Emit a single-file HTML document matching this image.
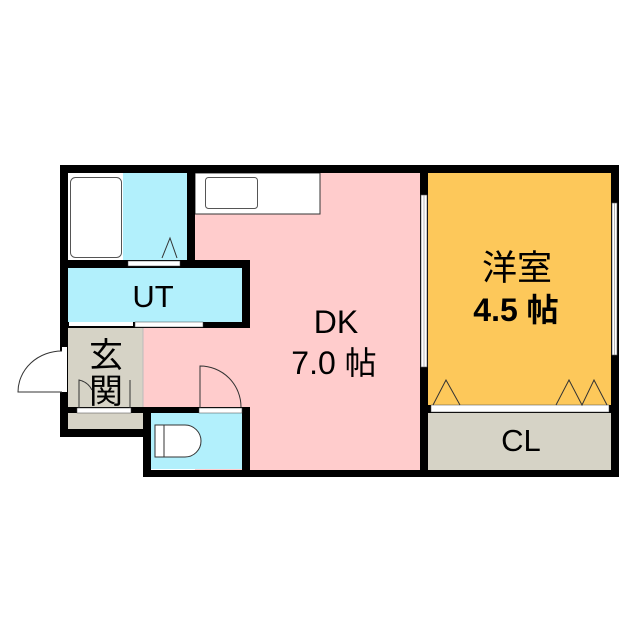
<!DOCTYPE html>
<html><head><meta charset="utf-8"><style>
html,body{margin:0;padding:0;background:#fff}
svg{display:block}
text{font-family:"Liberation Sans","Noto Sans CJK JP",sans-serif;fill:#000}
</style></head><body>
<svg width="640" height="640" viewBox="0 0 640 640" xmlns="http://www.w3.org/2000/svg">
<!-- rooms -->
<rect x="68" y="173" width="119" height="87" fill="#b2f0fc"/>
<rect x="68" y="173" width="55" height="87" fill="#fff"/>
<rect x="70.5" y="177.5" width="51" height="80" rx="5" fill="#fff" stroke="#555" stroke-width="1"/>
<rect x="195" y="173" width="225" height="297" fill="#ffcccc"/>
<rect x="143" y="328" width="107" height="79" fill="#ffcccc"/>
<rect x="68" y="268" width="174" height="54" fill="#b2f0fc"/>
<rect x="195" y="173" width="125" height="41" fill="#fff" stroke="#333" stroke-width="1"/>
<rect x="205.5" y="177.5" width="52" height="31" rx="3" fill="#fff" stroke="#555" stroke-width="1"/>
<rect x="68" y="328" width="75" height="79" fill="#d6d3c6"/>
<line x1="143" y1="328" x2="143" y2="407" stroke="#bbb" stroke-width="1"/>
<rect x="68" y="413" width="75" height="16" fill="#d6d3c6"/>
<rect x="151" y="413" width="91" height="56" fill="#b2f0fc"/>
<rect x="428" y="173" width="183" height="232" fill="#fdc85a"/>
<rect x="428" y="413" width="183" height="57" fill="#d6d3c6"/>
<!-- walls -->
<g fill="#000">
<rect x="60" y="165" width="559" height="8"/>
<rect x="60" y="165" width="8" height="272"/>
<rect x="611" y="165" width="8" height="312"/>
<rect x="143" y="470" width="476" height="7"/>
<rect x="187" y="165" width="8" height="103"/>
<rect x="60" y="260" width="190" height="8"/>
<rect x="242" y="260" width="8" height="68"/>
<rect x="60" y="322" width="190" height="6"/>
<rect x="60" y="407" width="91" height="6"/>
<rect x="60" y="429" width="91" height="8"/>
<rect x="143" y="407" width="8" height="70"/>
<rect x="143" y="407" width="107" height="6"/>
<rect x="242" y="407" width="8" height="70"/>
<rect x="420" y="165" width="8" height="312"/>
<rect x="428" y="405" width="183" height="8"/>
</g>
<!-- doors / openings -->
<rect x="128" y="261" width="52" height="5" fill="#fff" stroke="#444" stroke-width="0.5"/>
<path d="M162 258 L170 238 L177 258" fill="none" stroke="#333" stroke-width="1"/>
<rect x="69" y="322" width="64" height="4" fill="#fff"/>
<rect x="135" y="322" width="68" height="5" fill="#fff" stroke="#444" stroke-width="0.5"/>
<rect x="62" y="347" width="5" height="45" fill="#fff"/>
<path d="M62 351 A44 41 0 0 0 18 392 L62 392" fill="#fff" stroke="#333" stroke-width="1"/>
<rect x="77" y="408" width="54" height="5" fill="#fff" stroke="#444" stroke-width="0.5"/>
<path d="M79 408 L79 380 Q88 382 92 390 M130 408 L130 380" fill="none" stroke="#333" stroke-width="1"/>
<rect x="199" y="408" width="43" height="5" fill="#fff" stroke="#444" stroke-width="0.5"/>
<path d="M200 408 L200 366 A41 41 0 0 1 241 407" fill="none" stroke="#333" stroke-width="1"/>
<path d="M164 425 L185 425 A16 16 0 0 1 185 457 L164 457 Z M155 425 L164 425 L164 457 L155 457 Z" fill="#fff" stroke="#333" stroke-width="1"/>
<!-- windows -->
<rect x="421" y="195" width="6" height="172" fill="#fff" stroke="#555" stroke-width="0.6"/>
<line x1="424" y1="195" x2="424" y2="367" stroke="#888" stroke-width="0.6"/>
<rect x="612" y="203" width="5" height="152" fill="#fff" stroke="#555" stroke-width="0.6"/>
<line x1="614.5" y1="203" x2="614.5" y2="355" stroke="#888" stroke-width="0.6"/>
<!-- closet -->
<rect x="431" y="405" width="178" height="7" fill="#fff" stroke="#444" stroke-width="0.5"/>
<path d="M433 405 L446 380 L460 405 M556 405 L569 380 L582 405 L594 380 L607 405" fill="none" stroke="#333" stroke-width="1"/>
<!-- labels -->
<text x="153" y="307" font-size="31" text-anchor="middle">UT</text>
<text x="336" y="333" font-size="32" text-anchor="middle">DK</text>
<text x="334" y="374" font-size="32" text-anchor="middle">7.0 帖</text>
<text x="517" y="280" font-size="35" text-anchor="middle">洋室</text>
<text x="516" y="321" font-size="32" text-anchor="middle" font-weight="bold">4.5 帖</text>
<text x="521" y="451" font-size="31" text-anchor="middle">CL</text>
<text x="106" y="367" font-size="34" text-anchor="middle">玄</text>
<text x="106" y="403" font-size="34" text-anchor="middle">関</text>
</svg>
</body></html>
